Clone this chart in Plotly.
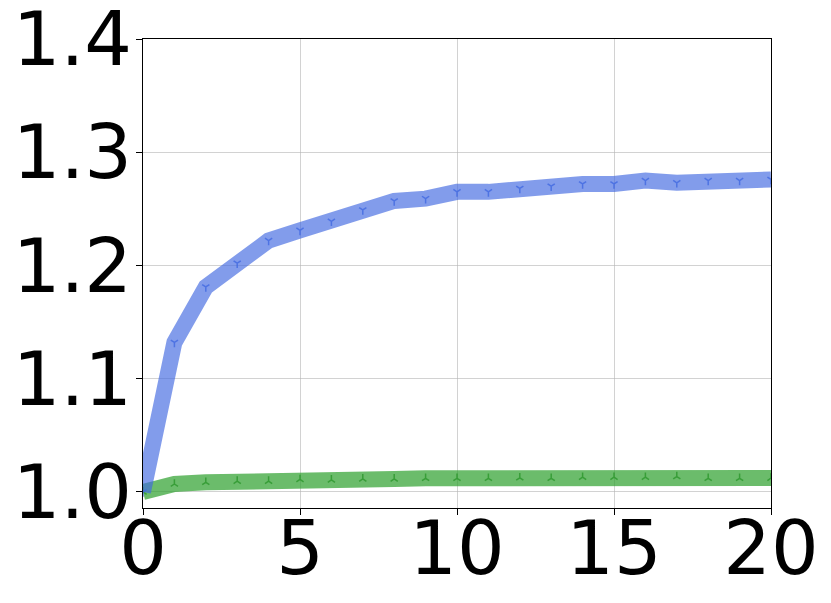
import plotly.graph_objects as go

x_vals = list(range(21))
blue_vals = [1.000, 1.132, 1.181, 1.202, 1.222, 1.231, 1.239, 1.249, 1.257, 1.259, 1.265,
             1.265, 1.268, 1.270, 1.272, 1.272, 1.275, 1.273, 1.275, 1.275, 1.276]
green_vals = [1.000, 1.007, 1.0085, 1.0095, 1.0095, 1.011, 1.0106, 1.0115, 1.0115, 1.012, 1.012,
              1.012, 1.0125, 1.012, 1.013, 1.013, 1.013, 1.0136, 1.012, 1.012, 1.0122]
x_ticks = [0, 5, 10, 15, 20]
y_ticks = [1.0, 1.1, 1.2, 1.3, 1.4]

fig = go.Figure()
fig.add_trace(go.Scatter(
    x=x_vals, y=green_vals, mode="lines+markers",
    line=dict(color="rgba(44,160,44,0.7)", width=16),
    marker=dict(symbol="y-up", size=6, color="rgba(44,150,44,0.8)",
                line=dict(color="rgba(44,150,44,0.8)", width=1.5)),
    showlegend=False))
fig.add_trace(go.Scatter(
    x=x_vals, y=blue_vals, mode="lines+markers",
    line=dict(color="rgba(65,105,225,0.66)", width=16),
    marker=dict(symbol="y-down", size=6, color="rgba(65,105,225,0.8)",
                line=dict(color="rgba(65,105,225,0.8)", width=1.5)),
    showlegend=False))

axis_common = dict(
    showline=True, linecolor="black", linewidth=1, mirror=True,
    showgrid=True, gridcolor="rgba(180,180,180,0.6)", gridwidth=1,
    ticks="outside", ticklen=6, tickwidth=1, tickcolor="black",
    tickfont=dict(family="DejaVu Sans", size=75, color="black"),
    zeroline=False, automargin=False, ticklabeloverflow="allow",
)
fig.update_xaxes(range=[0, 20], tickvals=x_ticks, ticktext=[str(v) for v in x_ticks],
                 ticklabelstandoff=-31, **axis_common)
fig.update_yaxes(range=[0.9858, 1.4], tickvals=y_ticks, ticktext=[f"{v:.1f}" for v in y_ticks],
                 ticklabelstandoff=-11, **axis_common)

fig.update_layout(
    width=823, height=595,
    margin=dict(l=135, r=60, t=31, b=95),
    plot_bgcolor="white", paper_bgcolor="white",
)
fig.write_html("out.html")
